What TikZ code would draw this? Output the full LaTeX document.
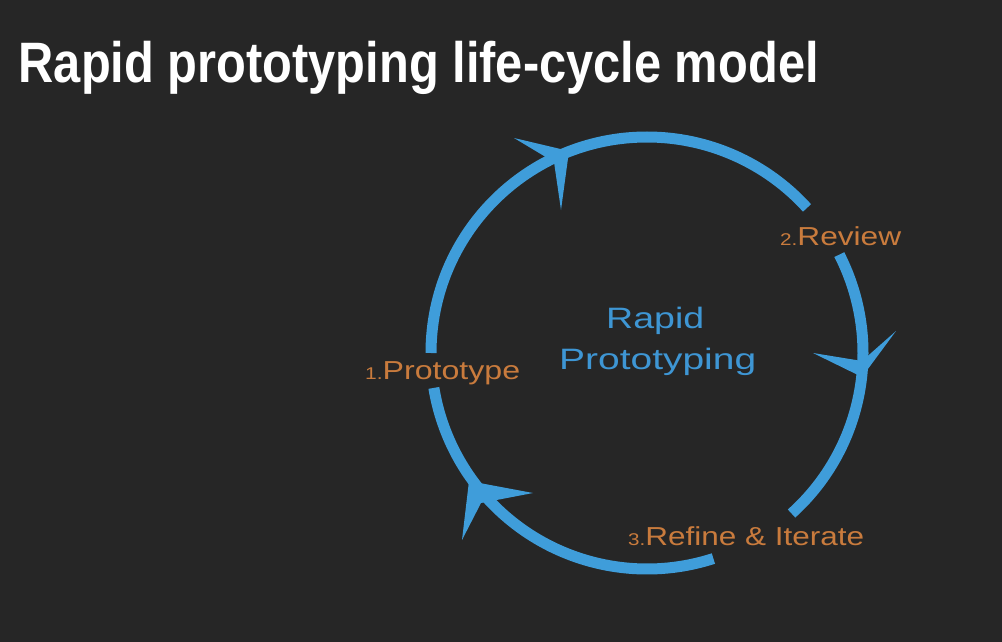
\documentclass[tikz,border=0pt]{standalone}
\usepackage{fontspec}
\usepackage{graphicx}
\setmainfont{Liberation Sans}
\definecolor{bg}{HTML}{262626}
\definecolor{cblue}{HTML}{3F9DDA}
\definecolor{tblue}{HTML}{3E96D4}
\definecolor{corange}{HTML}{C97B3D}
\newcommand{\hfit}[2]{\resizebox{#1pt}{\height}{#2}}
\newcommand{\smallnum}[1]{{\fontsize{17}{17}\selectfont #1}}
\begin{document}
\begin{tikzpicture}[x=1pt,y=-1pt,
  ring/.style={draw=cblue,line width=11pt},
  tipshape/.style={fill=cblue,draw=none},
  txt/.style={inner sep=0pt,anchor=base west},
  lbl/.style={txt,text=corange,font=\fontsize{26}{26}\selectfont},
  ctr/.style={txt,text=tblue,font=\fontsize{29.5}{29.5}\selectfont},
  ttl/.style={txt,text=white,font=\fontsize{57}{57}\selectfont\bfseries}]
\fill[bg] (0,0) rectangle (1002,642);
\useasboundingbox (0,0) rectangle (1002,642);

\node[ttl] (title) at (18.5,82) {\hfit{800}{Rapid prototyping life-cycle model}};

\coordinate (c) at (647,353);
\draw[ring] (c) ++(180:216) arc[start angle=180, end angle=317.8, radius=216];
\draw[ring] (c) ++(332.9:216) arc[start angle=332.9, end angle=408, radius=216];
\draw[ring] (c) ++(72.1:216) arc[start angle=72.1, end angle=170.7, radius=216];

% arrowheads
\coordinate (f1) at (569,151); \coordinate (s1a) at (514,138);
\coordinate (n1) at (554,162); \coordinate (s1b) at (561,210);
\fill[tipshape] (f1) -- (s1a) -- (n1) -- (s1b) -- cycle;
\coordinate (f2) at (862,377); \coordinate (s2a) at (813,353);
\coordinate (n2) at (862,361); \coordinate (s2b) at (896,331);
\fill[tipshape] (f2) -- (s2a) -- (n2) -- (s2b) -- cycle;
\coordinate (f3) at (469,481); \coordinate (s3a) at (533,493);
\coordinate (n3) at (481,503); \coordinate (s3b) at (462,540);
\fill[tipshape] (f3) -- (s3a) -- (n3) -- (s3b) -- cycle;

\node[ctr] (rapid) at (606,328) {\hfit{98}{Rapid}};
\node[ctr] (proto) at (559,369) {\hfit{197}{Prototyping}};

\node[lbl] (l1) at (365,379) {\hfit{155}{\smallnum{1.}Prototype}};
\node[lbl] (l2) at (780,245) {\hfit{121}{\smallnum{2.}Review}};
\node[lbl] (l3) at (628,545) {\hfit{236}{\smallnum{3.}Refine \& Iterate}};
\end{tikzpicture}
\end{document}
